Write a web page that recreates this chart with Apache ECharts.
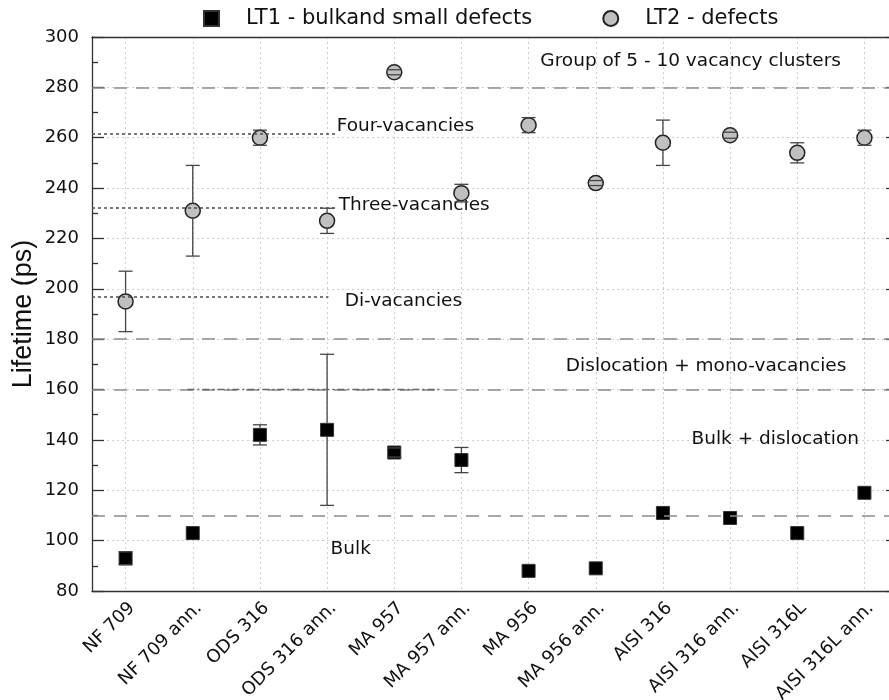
<!DOCTYPE html>
<html>
<head>
<meta charset="utf-8">
<script src="https://cdn.jsdelivr.net/npm/echarts@6/dist/echarts.min.js"></script>
<style>
  html, body { margin: 0; padding: 0; background: #fff; }
  #chart { width: 889px; height: 700px; }
</style>
</head>
<body>
<div id="chart"></div>
<script>
// samples on the x axis
var categories = ['NF 709', 'NF 709 ann.', 'ODS 316', 'ODS 316 ann.', 'MA 957', 'MA 957 ann.',
  'MA 956', 'MA 956 ann.', 'AISI 316', 'AISI 316 ann.', 'AISI 316L', 'AISI 316L ann.'];
// LT1 - bulk and small defects
var lt1 = [93, 103, 142, 144, 135, 132, 88, 89, 111, 109, 103, 119];
var lt1Err = [2.6, 0, 4, 30, 1.8, 5, 0, 0, 0, 0, 0, 0];
// LT2 - defects
var lt2 = [195, 231, 260, 227, 286, 238, 265, 242, 258, 261, 254, 260];
var lt2Err = [12, 18, 3, 5, 1, 3.5, 3, 1, 9, 1.2, 4, 3];

// reference levels (long dashes, full width)
var regionLines = [280, 180, 160, 110];
// vacancy levels (short dotted lines on the left)
var vacancyLevels = [261.5, 232, 197];
var vacancyEnds = [3.12, 3.12, 3.02];
// dash-dot segment on 160
var dashDotY = 160;
var dashDotFrom = 0.92;
var dashDotTo = 4.69;

// text annotations: text, x (category position), y, align
var noteTexts = ['Group of 5 - 10 vacancy clusters', 'Four-vacancies', 'Three-vacancies', 'Di-vacancies',
  'Dislocation + mono-vacancies', 'Bulk + dislocation', 'Bulk'];
var noteX = [8.42, 3.15, 3.18, 3.27, 8.65, 9.68, 3.06];
var noteY = [290, 264.3, 232.9, 194.8, 169, 140, 96.3];
var noteAlign = ['center', 'left', 'left', 'left', 'center', 'center', 'left'];

var FONT = 'DejaVu Sans';

function errData(vals, errs) {
  var out = [];
  for (var i = 0; i < vals.length; i++) {
    if (errs[i] > 0) out.push([i, vals[i] - errs[i], vals[i] + errs[i], vals[i]]);
  }
  return out;
}

// error bar: vertical stem (not drawn through the symbol) and two caps
function renderErr(params, api) {
  var x = api.value(0);
  var lo = api.coord([x, api.value(1)]);
  var hi = api.coord([x, api.value(2)]);
  var mid = api.coord([x, api.value(3)]);
  var r = 7, w = 7;
  var style = { stroke: '#444', lineWidth: 1.3 };
  var kids = [
    { type: 'line', shape: { x1: hi[0] - w, y1: hi[1], x2: hi[0] + w, y2: hi[1] }, style: style },
    { type: 'line', shape: { x1: lo[0] - w, y1: lo[1], x2: lo[0] + w, y2: lo[1] }, style: style }
  ];
  if (mid[1] - r > hi[1]) kids.push({ type: 'line', shape: { x1: hi[0], y1: hi[1], x2: hi[0], y2: mid[1] - r }, style: style });
  if (lo[1] > mid[1] + r) kids.push({ type: 'line', shape: { x1: lo[0], y1: mid[1] + r, x2: lo[0], y2: lo[1] }, style: style });
  return { type: 'group', children: kids };
}

var markData = [];
regionLines.forEach(function (v) {
  markData.push({ yAxis: v, lineStyle: { color: '#8c8c8c', type: [13, 9], width: 1.6 } });
});
vacancyLevels.forEach(function (v, i) {
  markData.push([
    { coord: [-0.5, v], lineStyle: { color: '#555', type: [3, 3], width: 1.6 } },
    { coord: [vacancyEnds[i], v] }
  ]);
});
markData.push([
  { coord: [dashDotFrom, dashDotY], lineStyle: { color: '#666', type: [7, 3, 2, 3], width: 1.3 } },
  { coord: [dashDotTo, dashDotY] }
]);

var notes = noteTexts.map(function (t, i) {
  return {
    name: t,
    value: [noteX[i], noteY[i]],
    label: { align: noteAlign[i] }
  };
});

var chart = echarts.init(document.getElementById('chart'));
chart.setOption({
  animation: false,
  textStyle: { fontFamily: FONT },
  legend: {
    top: 8,
    left: 203,
    padding: 0,
    itemWidth: 15,
    itemHeight: 15,
    itemGap: 70,
    textStyle: { fontFamily: FONT, fontSize: 21, color: '#111', padding: [0, 0, 0, 22] },
    data: ['LT1 - bulkand small defects', 'LT2 - defects']
  },
  // the right edge of the frame runs just past the picture
  grid: { left: 92, width: 806, top: 37, bottom: 109, outerBoundsMode: 'none', containLabel: false },
  xAxis: [{
    type: 'category',
    data: categories,
    position: 'bottom',
    axisLine: { onZero: false, lineStyle: { color: '#333', width: 1.3 } },
    axisTick: { inside: true, alignWithLabel: true, length: 11, lineStyle: { color: '#333', width: 1.3 } },
    splitLine: { show: true, alignWithLabel: true, lineStyle: { color: '#cfcfcf', type: [2, 3], width: 1 } },
    axisLabel: { rotate: 45, margin: 8, verticalAlign: 'top', fontFamily: FONT, fontSize: 18, color: '#111', interval: 0 }
  }, {
    type: 'category',
    data: categories,
    position: 'top',
    axisLine: { onZero: false, lineStyle: { color: '#333', width: 1.3 } },
    axisTick: { inside: true, alignWithLabel: true, length: 11, lineStyle: { color: '#333', width: 1.3 } },
    axisLabel: { show: false },
    splitLine: { show: false }
  }, {
    type: 'value',
    min: -0.5,
    max: 11.5,
    show: false
  }],
  yAxis: [{
    type: 'value',
    min: 80,
    max: 300,
    interval: 20,
    position: 'left',
    name: 'Lifetime (ps)',
    nameLocation: 'middle',
    nameGap: 55,
    nameMoveOverlap: false,
    nameTextStyle: { fontFamily: 'Liberation Sans', fontSize: 27, color: '#111' },
    axisLine: { show: true, onZero: false, lineStyle: { color: '#333', width: 1.3 } },
    axisTick: { show: true, inside: true, length: 12, lineStyle: { color: '#333', width: 1.3 } },
    minorTick: { show: true, splitNumber: 2, length: 6, lineStyle: { color: '#333', width: 1.3 } },
    axisLabel: { margin: 13, fontFamily: FONT, fontSize: 18, color: '#111' },
    splitLine: { show: true, lineStyle: { color: '#cfcfcf', type: [2, 3], width: 1 } }
  }, {
    type: 'value',
    min: 80,
    max: 300,
    interval: 20,
    position: 'right',
    axisLine: { show: true, onZero: false, lineStyle: { color: '#333', width: 1.3 } },
    axisTick: { show: true, inside: true, length: 12, lineStyle: { color: '#333', width: 1.3 } },
    minorTick: { show: true, splitNumber: 2, length: 6, lineStyle: { color: '#333', width: 1.3 } },
    axisLabel: { show: false },
    splitLine: { show: false }
  }],
  series: [{
    name: 'annotations',
    type: 'scatter',
    xAxisIndex: 2,
    yAxisIndex: 0,
    symbolSize: 1,
    itemStyle: { color: 'rgba(0,0,0,0)', opacity: 1 },
    label: {
      show: true,
      position: [0, 0],
      verticalAlign: 'middle',
      formatter: '{b}',
      fontFamily: FONT,
      fontSize: 18.5,
      color: '#111'
    },
    data: notes,
    markLine: {
      silent: true,
      symbol: 'none',
      label: { show: false },
      data: markData
    },
    z: 1
  }, {
    name: 'LT1 - bulkand small defects',
    type: 'scatter',
    xAxisIndex: 0,
    symbol: 'rect',
    symbolSize: 13,
    itemStyle: { color: '#000', borderColor: '#333', borderWidth: 1, opacity: 1 },
    data: lt1,
    z: 3
  }, {
    name: 'LT2 - defects',
    type: 'scatter',
    xAxisIndex: 0,
    symbol: 'circle',
    symbolSize: 15,
    itemStyle: { color: '#c0c0c0', borderColor: '#222', borderWidth: 1.5, opacity: 1 },
    data: lt2,
    z: 3
  }, {
    name: 'lt1err',
    type: 'custom',
    xAxisIndex: 0,
    renderItem: renderErr,
    data: errData(lt1, lt1Err),
    z: 4
  }, {
    name: 'lt2err',
    type: 'custom',
    xAxisIndex: 0,
    renderItem: renderErr,
    data: errData(lt2, lt2Err),
    z: 4
  }]
});
</script>
</body>
</html>
